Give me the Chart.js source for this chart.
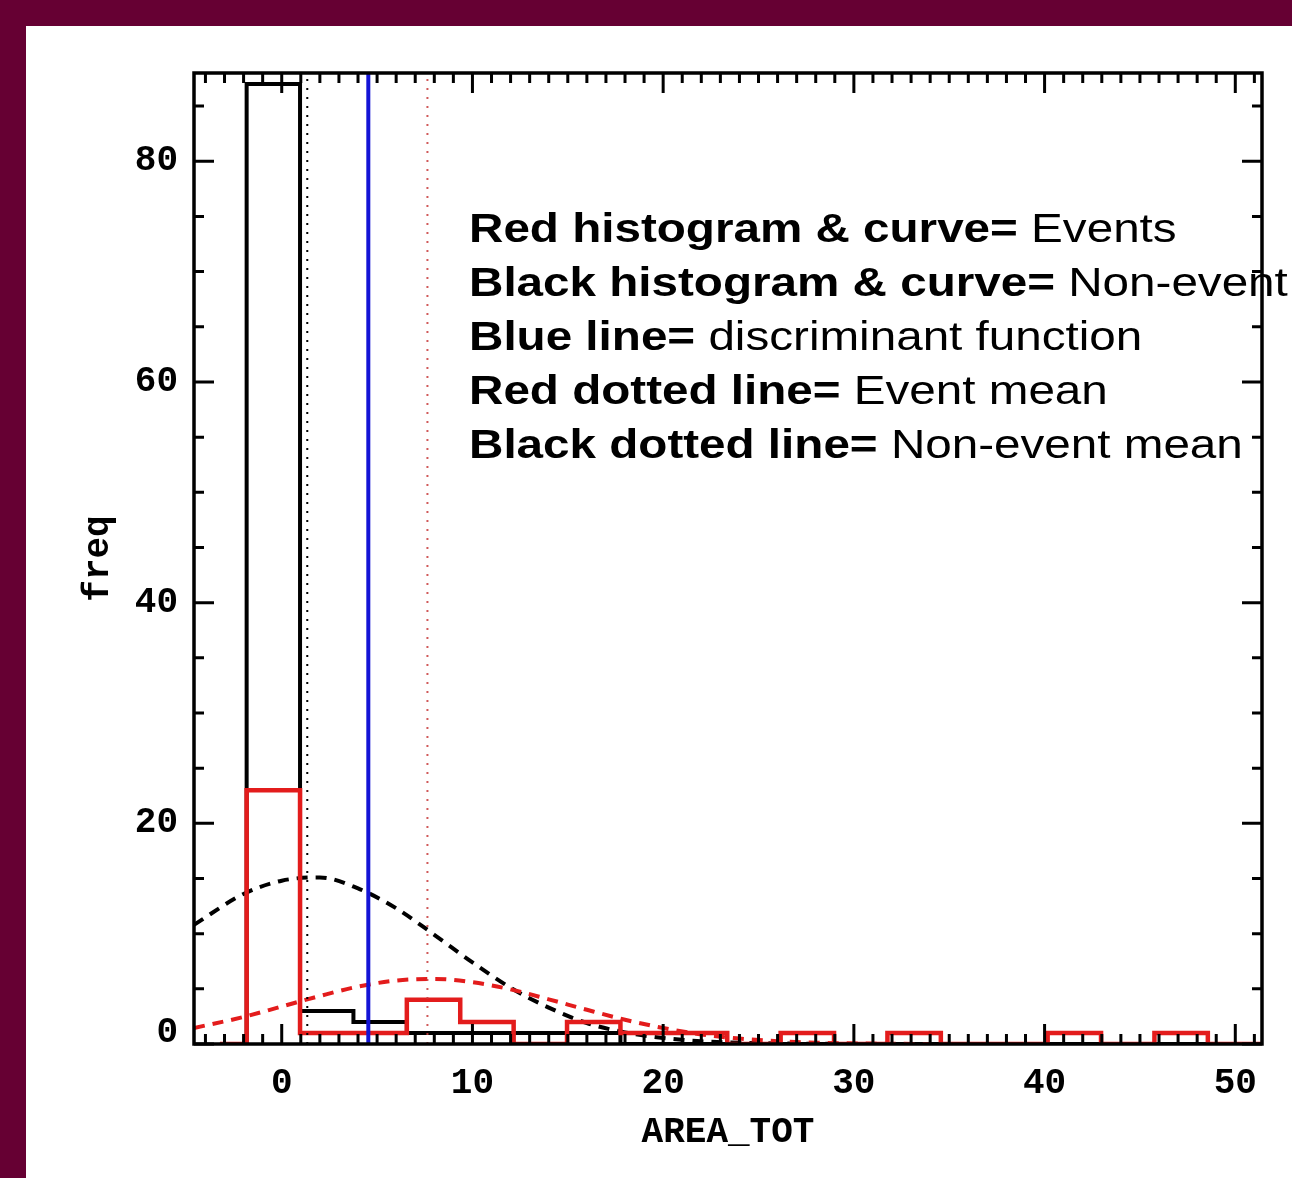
<!DOCTYPE html>
<html>
<head>
<meta charset="utf-8">
<title>AREA_TOT histogram</title>
<script src="https://cdn.jsdelivr.net/npm/chart.js@4.4.0/dist/chart.umd.min.js"></script>
<style>
  html, body { margin: 0; padding: 0; background: #660033; }
  body { width: 1292px; height: 1178px; overflow: hidden; position: relative; }
  #panel { position: absolute; left: 26px; top: 26px; width: 1266px; height: 1152px; background: #fff; }
  canvas { display: block; }
</style>
</head>
<body>
<div id="panel"><canvas id="hist" width="1266" height="1152"></canvas></div>
<script>
// AREA_TOT bins (left edges + closing edge)
const binEdges = [-1.84, 0.96, 3.76, 6.56, 9.36, 12.16, 14.96, 17.76, 20.56, 23.36,
                  26.16, 28.96, 31.76, 34.56, 37.36, 40.16, 42.96, 45.76, 48.56, 51.36];
const histStart = -3.24;

// counts per bin
const nonEventCounts = [87, 3, 2, 1, 1, 1, 1, 0, 0, 0, 0, 0, 0, 0, 0, 0, 0, 0, 0];
const eventCounts    = [23, 1, 1, 4, 2, 0, 2, 1, 1, 0, 1, 0, 1, 0, 0, 1, 0, 1, 0];

// fitted normal curves
const curveX        = [-4.6, -2, 0, 2, 4, 6, 8, 10, 12, 14, 16, 18, 20, 22, 24, 26, 28, 30, 32, 34];
const nonEventCurve = [10.8, 13.6, 14.8, 15.1, 14.1, 12.3, 9.9, 7.4, 5.1, 3.3, 1.9, 1.05, 0.55, 0.25, 0.11, 0.05, 0.02, 0, 0, 0];
const eventCurve    = [1.45, 2.45, 3.4, 4.35, 5.2, 5.75, 5.9, 5.6, 4.95, 4.05, 3.1, 2.2, 1.45, 0.87, 0.49, 0.26, 0.12, 0.05, 0.02, 0];

const nonEventMean = 1.34;
const eventMean = 7.64;
const discriminant = 4.54;

const xTicks = [0, 10, 20, 30, 40, 50];
const yTicks = [0, 20, 40, 60, 80];
const xRange = [-4.6, 51.4];
const yRange = [0, 88];

const notes = [
  ['Red histogram & curve=', ' Events'],
  ['Black histogram & curve=', ' Non-event'],
  ['Blue line=', ' discriminant function'],
  ['Red dotted line=', ' Event mean'],
  ['Black dotted line=', ' Non-event mean'],
];

const RED = '#e31c1c';
const BLUE = '#1414d6';
const axisFont = { family: 'Liberation Mono', weight: 'bold', size: 36 };

function histPoints(counts) {
  const pts = [{ x: histStart, y: 0 }];
  counts.forEach((c, i) => pts.push({ x: binEdges[i], y: c }));
  pts.push({ x: binEdges[counts.length], y: 0 }, { x: xRange[1], y: 0 });
  return pts;
}
const curvePoints = (ys) => curveX.map((x, i) => ({ x, y: ys[i] }));
const vline = (x, color, width, dash) => ({
  data: [{ x, y: yRange[0] }, { x, y: yRange[1] }],
  borderColor: color, borderWidth: width, borderDash: dash || [],
});

/* frame with inward ticks on all four sides, plus the text key */
const frame = {
  id: 'frame',
  afterDatasetsDraw(chart) {
    const { ctx, chartArea: a, scales: { x, y } } = chart;
    ctx.save();

    // key text is drawn a bit wide
    ctx.fillStyle = '#000';
    ctx.textBaseline = 'alphabetic';
    notes.forEach(([bold, plain], i) => {
      ctx.save();
      ctx.translate(a.left + 275, a.top + 169 + i * 54);
      ctx.scale(1.19, 1);
      ctx.font = 'bold 40px "Liberation Sans"';
      ctx.fillText(bold, 0, 0);
      const w = ctx.measureText(bold).width;
      ctx.font = '40px "Liberation Sans"';
      ctx.fillText(plain, w, 0);
      ctx.restore();
    });

    ctx.strokeStyle = '#000';
    ctx.lineWidth = 3.5;
    ctx.strokeRect(a.left, a.top, a.right - a.left, a.bottom - a.top);
    ctx.lineWidth = 3;
    ctx.beginPath();
    for (let v = Math.ceil(x.min); v <= x.max; v++) {
      const px = x.getPixelForValue(v);
      const len = v % 10 === 0 ? 20 : 10;
      ctx.moveTo(px, a.bottom); ctx.lineTo(px, a.bottom - len);
      ctx.moveTo(px, a.top); ctx.lineTo(px, a.top + len);
    }
    for (let v = 0; v <= y.max; v += 5) {
      const py = y.getPixelForValue(v);
      const len = v % 20 === 0 ? 20 : 10;
      ctx.moveTo(a.left, py); ctx.lineTo(a.left + len, py);
      ctx.moveTo(a.right, py); ctx.lineTo(a.right - len, py);
    }
    ctx.stroke();
    ctx.restore();
  }
};

new Chart(document.getElementById('hist'), {
  type: 'line',
  data: {
    datasets: [
      vline(discriminant, BLUE, 4),
      vline(eventMean, 'rgba(200,60,60,0.85)', 2, [2, 7]),
      vline(nonEventMean, '#000', 2, [2, 7]),
      { data: curvePoints(eventCurve), borderColor: RED, borderWidth: 4, borderDash: [11, 8], cubicInterpolationMode: 'monotone' },
      { data: histPoints(eventCounts), borderColor: RED, borderWidth: 4.5, stepped: true },
      { data: curvePoints(nonEventCurve), borderColor: '#000', borderWidth: 4, borderDash: [11, 8], cubicInterpolationMode: 'monotone' },
      { data: histPoints(nonEventCounts), borderColor: '#000', borderWidth: 4, stepped: true },
    ],
  },
  options: {
    responsive: false,
    animation: false,
    events: [],
    layout: { padding: { top: 47, right: 30, left: 0, bottom: 0 } },
    plugins: { legend: { display: false }, tooltip: { enabled: false } },
    elements: { point: { radius: 0 } },
    scales: {
      x: {
        type: 'linear', min: xRange[0], max: xRange[1],
        afterBuildTicks: (s) => { s.ticks = xTicks.map((v) => ({ value: v })); },
        afterFit: (s) => { s.height = 134; },
        grid: { display: false, drawTicks: false },
        border: { display: false },
        ticks: { font: axisFont, color: '#000', padding: 18, maxRotation: 0, autoSkip: false },
        title: { display: true, text: 'AREA_TOT', font: axisFont, color: '#000', padding: { top: 0, bottom: 23 } },
      },
      y: {
        type: 'linear', min: yRange[0], max: yRange[1],
        afterBuildTicks: (s) => { s.ticks = yTicks.map((v) => ({ value: v })); },
        afterFit: (s) => { s.width = 168; },
        grid: { display: false, drawTicks: false },
        border: { display: false },
        ticks: {
          color: '#000', padding: 16, autoSkip: false,
          // the zero label sits a little above the axis line
          callback: (v) => (v === 0 ? ['0', ''] : String(v)),
          font: (c) => (c.tick && c.tick.value === 0 ? { ...axisFont, lineHeight: 0.62 } : axisFont),
        },
        title: { display: true, text: 'freq', font: axisFont, color: '#000', padding: { top: 51, bottom: 0 } },
      },
    },
  },
  plugins: [frame],
});
</script>
</body>
</html>
